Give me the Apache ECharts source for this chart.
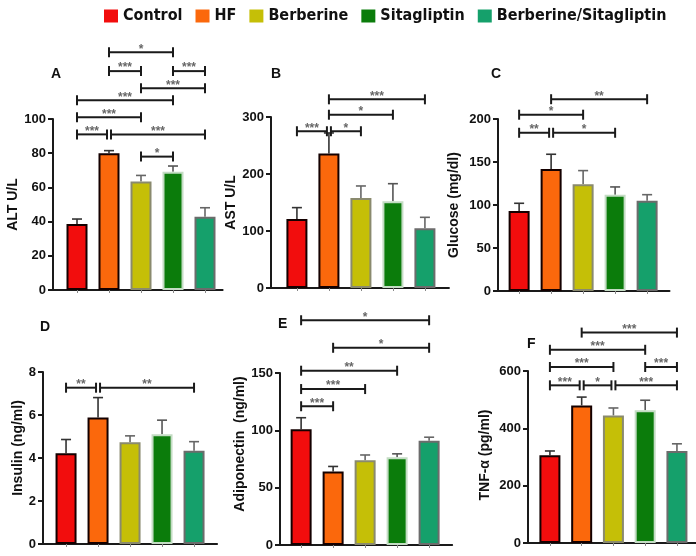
<!DOCTYPE html>
<html>
<head>
<meta charset="utf-8">
<script src="https://cdn.jsdelivr.net/npm/echarts@6/dist/echarts.min.js"></script>
<style>
html,body{margin:0;padding:0;background:#fff;}
#chart{width:696px;height:556px;}
</style>
</head>
<body>
<div id="chart"></div>
<script>
// ---------------- data ----------------
const categories = ['Control', 'HF', 'Berberine', 'Sitagliptin', 'Berberine/Sitagliptin'];

const altMean = [38.6, 80.0, 63.4, 69.2, 42.9];
const altSem  = [2.9, 1.5, 3.6, 3.3, 5.2];
const altBrackets = [
  [2, 3, 78, '*'],
  [0, 1, 91, '***'], [1, 4, 91, '***'],
  [0, 2, 101, '***'],
  [0, 3, 111, '***'],
  [2, 4, 118, '***'],
  [1, 2, 128, '***'], [3, 4, 128, '***'],
  [1, 3, 139, '*']
];

const astMean = [121, 236, 158, 152, 105];
const astSem  = [20, 36, 21, 31, 19];
const astBrackets = [
  [0, 1, 275, '***'], [1, 2, 275, '*'],
  [1, 3, 304, '*'],
  [1, 4, 331, '***']
];

const glucoseMean = [93, 142, 124, 112, 105];
const glucoseSem  = [9, 17, 16, 9, 7];
const glucoseBrackets = [
  [0, 1, 184, '**'], [1, 3, 184, '*'],
  [0, 2, 205, '*'],
  [1, 4, 223, '**']
];

const insulinMean = [4.22, 5.88, 4.73, 5.10, 4.34];
const insulinSem  = [0.64, 0.93, 0.30, 0.66, 0.42];
const insulinBrackets = [
  [0, 1, 7.27, '**'], [1, 4, 7.27, '**']
];

const adipoMean = [101, 64, 74, 76.5, 91];
const adipoSem  = [10, 4.5, 4.5, 3, 3];
const adipoBrackets = [
  [0, 1, 121, '***'],
  [0, 2, 136, '***'],
  [0, 3, 152, '**'],
  [1, 4, 172, '*'],
  [0, 4, 196, '*']
];

const tnfMean = [306, 480, 445, 463, 321];
const tnfSem  = [15, 29, 26, 35, 25];
const tnfBrackets = [
  [0, 1, 550, '***'], [1, 2, 550, '*'], [2, 4, 550, '***'],
  [0, 2, 614, '***'], [3, 4, 614, '***'],
  [0, 3, 674, '***'],
  [1, 4, 734, '***']
];

const panelLetters = ['A', 'B', 'C', 'D', 'E', 'F'];
const axisNames = ['ALT U/L', 'AST U/L', 'Glucose (mg/dl)', 'Insulin (ng/ml)', 'Adiponectin  (ng/ml)', 'TNF-\u03b1 (pg/ml)'];
const axisMax = [100, 300, 200, 8, 150, 600];
const axisStep = [20, 100, 50, 2, 50, 200];

// ---------------- styles / layout ----------------
const barColors = ['#f20d0d', '#fb680c', '#c5bf07', '#0b7c0b', '#15a06b'];
const borderColors = ['#140000', '#140000', '#8a8a6e', '#c4dcc4', '#6c6c6c'];
const errColors = ['#333', '#333', '#666', '#555', '#666'];
const FONT = "'Liberation Sans', Arial, sans-serif";
const UNIT = 32; // px per category

const layout = [
  {axisX: 53,  top: 119, height: 171, xmin: -0.75, xmax: 4.55, nameGap: 32, shift: 0,  letter: [51, 67]},
  {axisX: 271, top: 117, height: 171, xmin: -0.81, xmax: 4.75, nameGap: 29, shift: 0,  letter: [271, 67]},
  {axisX: 498, top: 119, height: 172, xmin: -0.66, xmax: 4.70, nameGap: 37, shift: 0,  letter: [491, 67]},
  {axisX: 43,  top: 372, height: 172, xmin: -0.72, xmax: 4.72, nameGap: 18, shift: 10, letter: [40, 320]},
  {axisX: 280, top: 373, height: 172, xmin: -0.66, xmax: 4.72, nameGap: 33, shift: 15, letter: [278, 317]},
  {axisX: 528, top: 371, height: 172, xmin: -0.69, xmax: 4.60, nameGap: 36, shift: 2,  letter: [527, 337]}
];

const panels = [
  {mean: altMean, sem: altSem, brackets: altBrackets},
  {mean: astMean, sem: astSem, brackets: astBrackets},
  {mean: glucoseMean, sem: glucoseSem, brackets: glucoseBrackets},
  {mean: insulinMean, sem: insulinSem, brackets: insulinBrackets},
  {mean: adipoMean, sem: adipoSem, brackets: adipoBrackets},
  {mean: tnfMean, sem: tnfSem, brackets: tnfBrackets}
];

// ---------------- build option ----------------
const grids = [], xAxes = [], yAxes = [], series = [], titles = [];

panels.forEach((p, k) => {
  const L = layout[k];
  grids.push({left: L.axisX, top: L.top, height: L.height, width: (L.xmax - L.xmin) * UNIT, containLabel: false});
  xAxes.push({
    type: 'value', gridIndex: k, min: L.xmin, max: L.xmax,
    axisLine: {show: true, onZero: false, lineStyle: {color: '#1a1a1a', width: 2}},
    axisTick: {show: true, customValues: [0, 1, 2, 3, 4], length: 3, lineStyle: {color: '#888', width: 1}},
    axisLabel: {show: false}, splitLine: {show: false}
  });
  yAxes.push({
    type: 'value', gridIndex: k, min: 0, max: axisMax[k], interval: axisStep[k],
    name: axisNames[k], nameLocation: 'middle', nameGap: L.nameGap,
    nameTextStyle: {fontFamily: FONT, fontWeight: 'bold', fontSize: 14, color: '#111', padding: [0, 0, 0, 2 * L.shift]},
    axisLine: {show: true, onZero: false, lineStyle: {color: '#1a1a1a', width: 2}},
    axisTick: {show: true, length: 5, lineStyle: {color: '#1a1a1a', width: 2}},
    axisLabel: {fontFamily: FONT, fontWeight: 'bold', fontSize: 13, color: '#111', margin: 7},
    splitLine: {show: false}
  });
  titles.push({
    text: panelLetters[k], left: L.letter[0], top: L.letter[1], padding: 0,
    textStyle: {fontFamily: FONT, fontWeight: 'bold', fontSize: 14, color: '#111'}
  });

  // error bars (drawn below bars)
  series.push({
    type: 'custom', xAxisIndex: k, yAxisIndex: k, z: 1, clip: false, silent: true,
    data: p.mean.map((m, i) => [i, m, m + p.sem[i]]),
    renderItem: function (params, api) {
      const i = api.value(0);
      const a = api.coord([i, api.value(1)]);
      const b = api.coord([i, api.value(2)]);
      const st = {stroke: errColors[i], lineWidth: 1.6};
      return {type: 'group', children: [
        {type: 'line', shape: {x1: a[0], y1: a[1], x2: b[0], y2: b[1]}, style: st},
        {type: 'line', shape: {x1: b[0] - 5, y1: b[1], x2: b[0] + 5, y2: b[1]}, style: st}
      ]};
    }
  });

  // bars: one series per group so the legend picks them up
  categories.forEach((c, i) => {
    series.push({
      type: 'bar', name: c, xAxisIndex: k, yAxisIndex: k, z: 2,
      barWidth: 21, barGap: '-100%',
      data: [[i, p.mean[i]]],
      itemStyle: {color: barColors[i], borderColor: borderColors[i], borderWidth: 2}
    });
  });

  // significance brackets
  const br = p.brackets;
  series.push({
    type: 'custom', xAxisIndex: k, yAxisIndex: k, z: 5, clip: false, silent: true,
    data: br.map(b => [b[0], b[1], b[2]]),
    renderItem: function (params, api) {
      const b = br[params.dataIndex];
      const p1 = api.coord([b[0], b[2]]);
      const p2 = api.coord([b[1], b[2]]);
      let x1 = p1[0], x2 = p2[0];
      const y = p1[1];
      br.forEach(o => {
        if (o === b || o[2] !== b[2]) return;
        if (o[1] === b[0]) x1 += 2;
        if (o[0] === b[1]) x2 -= 2;
      });
      const st = {stroke: '#1a1a1a', lineWidth: 2};
      return {type: 'group', children: [
        {type: 'line', shape: {x1: x1, y1: y, x2: x2, y2: y}, style: st},
        {type: 'line', shape: {x1: x1, y1: y - 5, x2: x1, y2: y + 5}, style: st},
        {type: 'line', shape: {x1: x2, y1: y - 5, x2: x2, y2: y + 5}, style: st},
        {type: 'text', x: (x1 + x2) / 2, y: y + 3,
          style: {text: b[3], fill: '#666', font: 'bold 12px ' + FONT, align: 'center', verticalAlign: 'bottom'}}
      ]};
    }
  });
});

const option = {
  animation: false,
  backgroundColor: '#fff',
  title: titles,
  legend: {
    data: categories, left: 99, top: 3, itemWidth: 14, itemHeight: 13, itemGap: 13,
    icon: 'rect', itemStyle: {borderWidth: 0},
    textStyle: {fontFamily: "'DejaVu Sans Condensed', 'Liberation Sans Narrow', sans-serif", fontWeight: 'bold', fontSize: 16, color: '#111'}
  },
  grid: grids, xAxis: xAxes, yAxis: yAxes, series: series
};

const chart = echarts.init(document.getElementById('chart'), null, {renderer: 'canvas'});
chart.setOption(option);
</script>
</body>
</html>
